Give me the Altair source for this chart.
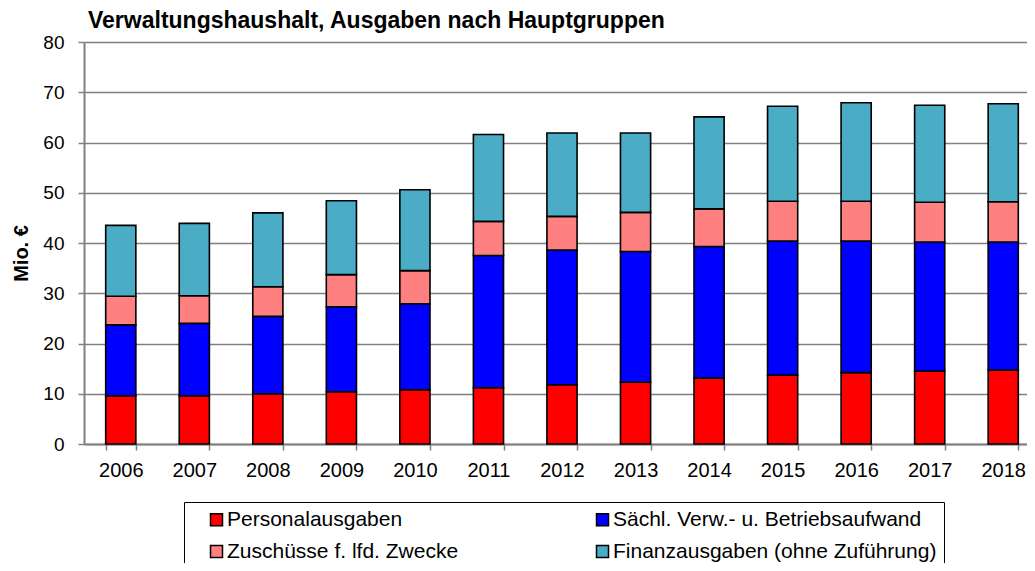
import altair as alt
import pandas as pd

years = [str(y) for y in range(2006, 2019)]
series = [
    "Personalausgaben",
    "Sächl. Verw.- u. Betriebsaufwand",
    "Zuschüsse f. lfd. Zwecke",
    "Finanzausgaben (ohne Zuführung)",
]
personal = [9.6, 9.6, 10.0, 10.4, 10.8, 11.2, 11.8, 12.3, 13.1, 13.7, 14.2, 14.5, 14.7]
saechl = [14.1, 14.4, 15.4, 16.9, 17.1, 26.3, 26.8, 26.0, 26.2, 26.7, 26.2, 25.7, 25.5]
zuschuesse = [5.7, 5.5, 5.9, 6.4, 6.6, 6.8, 6.7, 7.8, 7.5, 7.9, 7.9, 7.9, 8.0]
finanz = [14.1, 14.4, 14.7, 14.7, 16.1, 17.3, 16.6, 15.8, 18.3, 18.9, 19.6, 19.3, 19.5]
y_ticks = [0, 10, 20, 30, 40, 50, 60, 70, 80]
colors = ["#FF0000", "#0000FF", "#FF8080", "#4BACC6"]

values = [personal, saechl, zuschuesse, finanz]
rows = []
for i, s in enumerate(series):
    for yr, v in zip(years, values[i]):
        rows.append({"Jahr": yr, "Serie": s, "Wert": v, "idx": i})
df = pd.DataFrame(rows)

FONT = "Liberation Sans"

chart = alt.Chart(
    df,
    title=alt.TitleParams(
        "Verwaltungshaushalt, Ausgaben nach Hauptgruppen",
        anchor="start", frame="group", fontSize=23, font=FONT,
        fontWeight="bold", color="black", offset=-18, dx=4,
        baseline="alphabetic",
    ),
).mark_bar(stroke="black", strokeWidth=1.6).encode(
    x=alt.X(
        "Jahr:N", sort=years,
        scale=alt.Scale(range=[0, 956], paddingInner=0.59, paddingOuter=0.295),
        axis=alt.Axis(
            title=None, labelAngle=0, labelFontSize=20, labelFont=FONT,
            labelColor="black", tickBand="extent", tickSize=6, labelPadding=10,
            domainColor="#808080", domainWidth=2, tickColor="#808080",
            tickWidth=1.5, grid=False,
        ),
    ),
    y=alt.Y(
        "Wert:Q", stack="zero",
        scale=alt.Scale(domain=[0, 80], nice=False),
        axis=alt.Axis(
            title="Mio. €", titleFont=FONT, titleFontSize=20,
            titleFontWeight="bold", titleColor="black", titleX=-63,
            titleY=211, titleAngle=-90, titleAlign="center",
            titleBaseline="middle",
            values=y_ticks, labelFontSize=19, labelFont=FONT,
            labelColor="black", labelPadding=14, tickSize=6,
            tickColor="#808080", tickWidth=1.5, domainColor="#808080",
            domainWidth=2, gridColor="#808080", gridWidth=1.5,
        ),
    ),
    color=alt.Color(
        "Serie:N",
        scale=alt.Scale(domain=series, range=colors),
        legend=alt.Legend(
            title=None, orient="none", legendX=100, legendY=460, columns=2,
            direction="horizontal",
            padding=7, strokeColor="black", symbolType="square",
            symbolSize=144, symbolStrokeColor="black", symbolStrokeWidth=1.5,
            symbolOpacity=1, symbolOffset=15, labelFontSize=21,
            labelFont=FONT, labelColor="black", labelOffset=0,
            columnPadding=118, rowPadding=10, labelLimit=500,
        ),
    ),
    order=alt.Order("idx:Q", sort="ascending"),
).properties(
    width=943,
    height=402,
    autosize=alt.AutoSizeParams(type="none"),
    padding={"left": 76, "top": 34, "right": 0, "bottom": 119},
).configure_view(stroke="transparent")

chart.save("out.html", embed_options={"renderer": "svg", "actions": False})
